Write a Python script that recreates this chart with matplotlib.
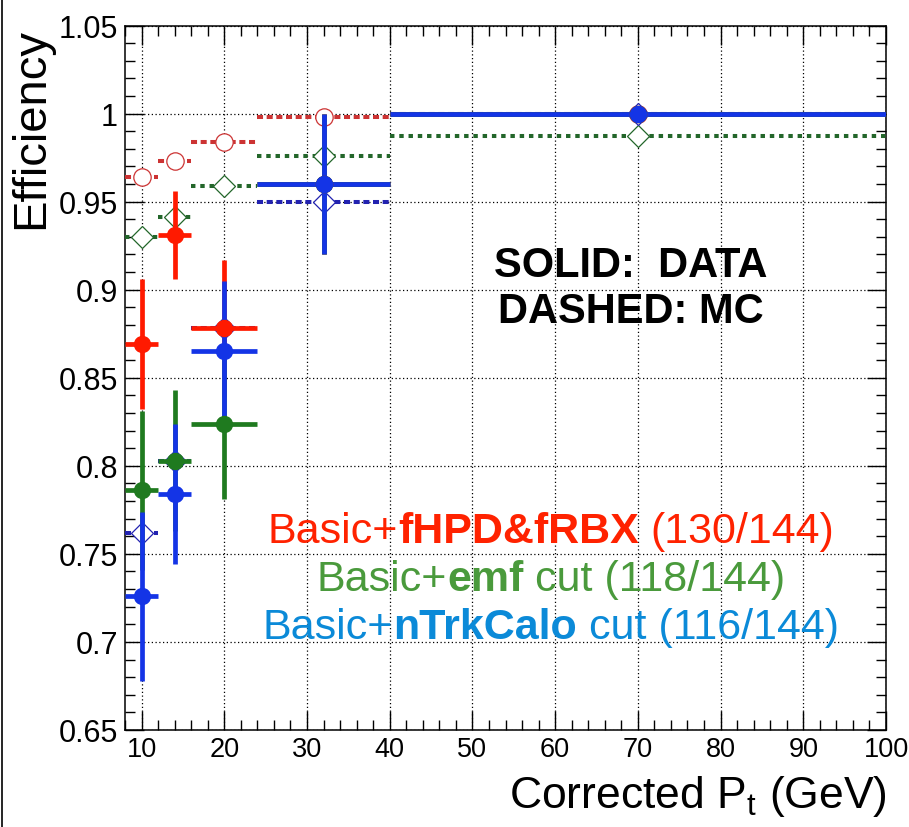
import matplotlib
matplotlib.use('Agg')
import matplotlib.pyplot as plt
from matplotlib.ticker import MultipleLocator, FuncFormatter
from matplotlib.lines import Line2D

plt.rcParams['font.family'] = ['Liberation Sans', 'DejaVu Sans']
plt.rcParams['mathtext.fontset'] = 'custom'
plt.rcParams['mathtext.rm'] = 'Liberation Sans'
plt.rcParams['mathtext.it'] = 'Liberation Sans:italic'
plt.rcParams['mathtext.bf'] = 'Liberation Sans:bold'

# pt bins (GeV)
pt_center = [10, 14, 20, 32, 70]
pt_halfwidth = [2, 2, 4, 8, 30]

# MC efficiencies (dashed, open markers)
mc_hpd = [0.964, 0.973, 0.984, 0.998, 1.0]
mc_emf = [0.930, 0.941, 0.959, 0.976, 0.987]
mc_trk = [0.762, 0.803, 0.878, 0.950, 1.0]

# data efficiencies (solid, filled markers)
data_hpd = [0.869, 0.931, 0.878, 0.960, 1.0]
data_hpd_err = [0.037, 0.025, 0.039, 0.040, 0.0]
data_emf = [0.786, 0.803, 0.824, 0.960, 1.0]
data_emf_err = [0.045, 0.040, 0.043, 0.040, 0.0]
data_trk = [0.726, 0.784, 0.865, 0.960, 1.0]
data_trk_err = [0.048, 0.040, 0.040, 0.040, 0.0]

# legend lines: (regular, bold, regular) pieces
legend_lines = [
    (['Basic+', 'fHPD&fRBX', '(130/144)'], '#ff2200'),
    (['Basic+', 'emf', 'cut (118/144)'], '#4a9a3c'),
    (['Basic+', 'nTrkCalo', 'cut (116/144)'], '#0b8ad8'),
]

W, H = 909, 828
fig = plt.figure(figsize=(W / 100, H / 100), dpi=100)
ax = fig.add_axes([125 / W, 1 - 731 / H, 761 / W, 704.5 / H])

ax.set_xlim(8, 100)
ax.set_ylim(0.65, 1.05)
ax.set_axisbelow(True)
ax.grid(True, which='major', color='black', linestyle=(0, (1, 2)), linewidth=0.9)

# MC first, data drawn on top
mc_sets = [
    (mc_hpd, '#cc3333', 'o', 12.5, (1.5, 0.9)),
    (mc_emf, '#23662a', 'D', 11, (1.1, 1.2)),
    (mc_trk, '#2222b0', 'D', 11, (1.5, 0.9)),
]
for vals, col, mk, ms, dash in mc_sets:
    eb = ax.errorbar(pt_center, vals, xerr=pt_halfwidth, fmt=mk, color=col,
                     mfc='white', mec=col, mew=0.9, ms=ms, elinewidth=2.9,
                     capsize=0, zorder=3)
    eb[2][0].set_linestyle((0, dash))

data_sets = [
    (data_hpd, data_hpd_err, '#ff1a00'),
    (data_emf, data_emf_err, '#1f7a1f'),
    (data_trk, data_trk_err, '#1434e6'),
]
for vals, err, col in data_sets:
    ax.errorbar(pt_center, vals, xerr=pt_halfwidth, yerr=err, fmt='o',
                color=col, ms=11.5, elinewidth=3.4, capsize=0, zorder=4)

ax.xaxis.set_major_locator(MultipleLocator(10))
ax.xaxis.set_minor_locator(MultipleLocator(2))
ax.yaxis.set_major_locator(MultipleLocator(0.05))
ax.yaxis.set_minor_locator(MultipleLocator(0.01))
ax.yaxis.set_major_formatter(FuncFormatter(lambda v, _: f'{v:g}'))

ax.tick_params(which='both', direction='in', top=True, right=True, width=1)
ax.tick_params(which='major', length=14)
ax.tick_params(which='minor', length=7.5)
ax.tick_params(axis='x', labelsize=19.5, pad=4.5)
ax.tick_params(axis='y', labelsize=22, pad=5)
for sp in ax.spines.values():
    sp.set_linewidth(1.1)

# annotations
ax.text(0.665, 0.644, 'SOLID:  DATA', transform=ax.transAxes, ha='center',
        va='baseline', fontsize=30, fontweight='bold')
ax.text(0.665, 0.579, 'DASHED: MC', transform=ax.transAxes, ha='center',
        va='baseline', fontsize=30, fontweight='bold')

# mixed regular/bold lines, centred on x=551 px
renderer = fig.canvas.get_renderer()
leg_size = 31


def text_width(s, weight):
    t = fig.text(0, 0, s, fontsize=leg_size, fontweight=weight)
    w = t.get_window_extent(renderer).width
    t.remove()
    return w


space_w = text_width('x x', 'normal') - text_width('xx', 'normal')
for i, (pieces, col) in enumerate(legend_lines):
    weights = ['normal', 'bold', 'normal']
    widths = [text_width(p, wt) for p, wt in zip(pieces, weights)]
    total = sum(widths) + space_w
    x = 551 - total / 2
    y = 543 + i * 48
    for j, (p, wt, w) in enumerate(zip(pieces, weights, widths)):
        if j == 2:
            x += space_w
        fig.text(x / W, 1 - y / H, p, fontsize=leg_size, fontweight=wt,
                 color=col, ha='left', va='baseline')
        x += w

fig.text(31 / W, 1 - 28 / H, 'Efficiency', rotation=90, ha='center',
         va='top', fontsize=34)
fig.text(887 / W, 1 - 808 / H, r'Corrected P$_{\mathrm{t}}$ (GeV)',
         ha='right', va='baseline', fontsize=32)

fig.add_artist(Line2D([2 / W, 2 / W], [0, 1], color='black', lw=1.2))

fig.savefig('out.png', dpi=100)
